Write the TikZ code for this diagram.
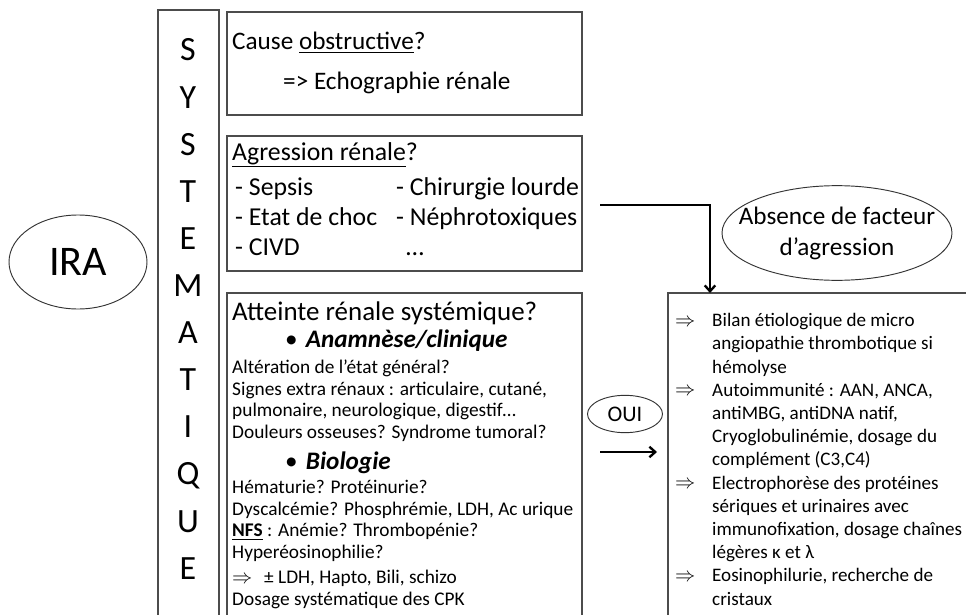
\documentclass[tikz,border=0pt]{standalone}
\usepackage{fontspec}
\setmainfont{Carlito}
\usetikzlibrary{arrows.meta,shapes.geometric,fit}

\newcommand\fsobst{\fontsize{21.5pt}{25.6pt}\selectfont}
\newcommand\fsbig{\fontsize{22pt}{25.6pt}\selectfont}
\newcommand\fshead{\fontsize{23pt}{26pt}\selectfont}
\newcommand\fssub{\fontsize{21.5pt}{24pt}\selectfont}
\newcommand\fsbody{\fontsize{16.5pt}{18.35pt}\selectfont}
\newcommand\fsright{\fontsize{16.3pt}{19.8pt}\selectfont}

\begin{document}
\begin{tikzpicture}[x=0.03cm, y=-0.03cm,
    panel/.style={draw=black!70, line width=0.9pt, inner sep=0pt},
    bubble/.style={draw=black!80, ellipse, line width=0.8pt, inner sep=0pt},
    txt/.style={anchor=base west, inner sep=0pt, align=left},
    flow/.style={line width=2pt, -{Straight Barb[length=5pt,width=9pt]}}]
    \useasboundingbox (0,0) rectangle (966,615);
    \clip (0,0) rectangle (966,615);

    % left part
    \node[bubble, minimum width=4.14cm, minimum height=2.82cm, font=\fontsize{36pt}{40pt}\selectfont] (ira) at (78,262) {IRA};
    \node[panel, fit={(158,10) (219,640)}] (sysbox) {};
    \foreach \ch [count=\i from 0] in {S,Y,S,T,E,M,A,T,I,Q,U,E}
        \node[anchor=base, inner sep=0pt, font=\fontsize{29pt}{32pt}\selectfont] (sys\i) at (188,61+\i*47.1) {\ch};

    % boxes in the middle (the last line of a text block sets its anchor)
    \node[panel, fit={(227,12) (582,115)}] (obstbox) {};
    \node[panel, fit={(227,136) (582,271)}] (agrbox) {};
    \node[panel, fit={(227,293) (582,640)}] (sysatbox) {};
    \node[panel, fit={(668,293) (980,640)}] (bilanbox) {};

    \node[txt, font=\fsobst] (obsttitle) at (232,50) {Cause \underline{obstructive}?};
    \node[txt, font=\fsobst] (echo) at (283,89) {=> Echographie rénale};

    \node[txt, font=\fsbig] (agrtitle) at (232,160) {\underline{Agression rénale}?};
    \node[txt, font=\fsbig] (agrleft) at (235,255) {- Sepsis\\- Etat de choc\\- CIVD};
    \node[txt, font=\fsbig] (agrright) at (396,255) {- Chirurgie lourde\\- Néphrotoxiques\\\hspace{0.3cm}…};

    \node[txt, font=\fshead] (sysattitle) at (232,320) {Atteinte rénale systémique?};
    \node[txt, font=\fssub] (anam) at (285,347) {\makebox[0.62cm][l]{•}\textbf{\textit{Anamnèse/clinique}}};
    \node[txt, font=\fsbody] (anamtext) at (232,438) {Altération de l’état général?\\
        Signes extra rénaux : articulaire, cutané,\\
        pulmonaire, neurologique, digestif…\\
        Douleurs osseuses? Syndrome tumoral?};
    \node[txt, font=\fssub] (bio) at (285,469) {\makebox[0.62cm][l]{•}\textbf{\textit{Biologie}}};
    \node[txt, font=\fsbody] (biotext) at (232,605) {Hématurie? Protéinurie?\\
        Dyscalcémie? Phosphrémie, LDH, Ac urique\\
        \textbf{\underline{NFS}} : Anémie? Thrombopénie?\\
        Hyperéosinophilie?\\[3pt]
        $\Rightarrow$\hspace{0.35cm}± LDH, Hapto, Bili, schizo\\
        Dosage systématique des CPK};

    % right part
    \node[align=center, inner sep=0pt, font=\fontsize{21.5pt}{26.5pt}\selectfont] (absence) at (837,233) {Absence de facteur\\d’agression};
    \draw[draw=black!80, line width=0.8pt] (absence.center) ellipse [x radius=3.45cm, y radius=1.42cm];
    \node[bubble, minimum width=2.25cm, minimum height=1.12cm, font=\fontsize{19pt}{22pt}\selectfont] (oui) at (625,414) {OUI};

    \node[txt, font=\fsright] (bilan) at (712,605) {Bilan étiologique  de micro\\
        angiopathie thrombotique si\\
        hémolyse\\
        Autoimmunité : AAN, ANCA,\\
        antiMBG, antiDNA natif,\\
        Cryoglobulinémie, dosage du\\
        complément (C3,C4)\\
        Electrophorèse des protéines\\
        sériques et urinaires  avec\\
        immunofixation, dosage chaînes\\
        légères κ et λ\\
        Eosinophilurie, recherche de\\
        cristaux};
    \foreach \k in {0,3,7,11}
        \node[txt, font=\fsright] (imp\k) at (675,326+\k*23.2) {$\Rightarrow$};

    % arrows
    \coordinate (agrout) at (600,205);
    \coordinate (drop) at (710,293);
    \draw[flow] (agrout) -| (drop);
    \coordinate (ouistart) at (600,452);
    \coordinate (ouiend) at (657,452);
    \draw[flow] (ouistart) -- (ouiend);
\end{tikzpicture}
\end{document}
